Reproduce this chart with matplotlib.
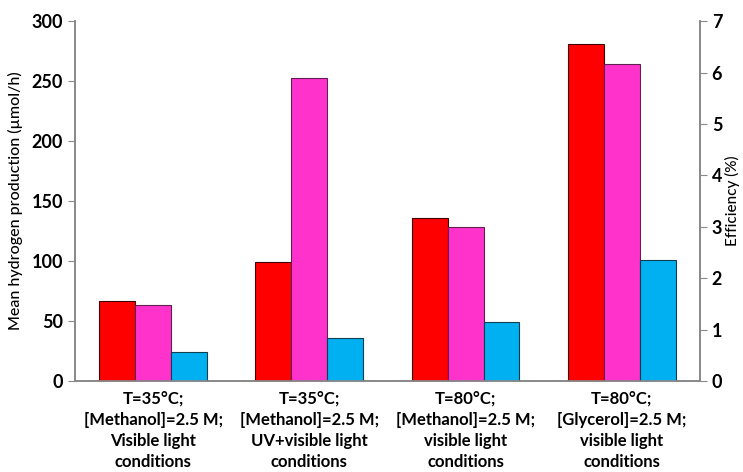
import numpy as np
import matplotlib
matplotlib.use("Agg")
import matplotlib.pyplot as plt

plt.rcParams["font.family"] = ["Lato", "DejaVu Sans"]

# ─── Data ─────────────────────────────────────────────────────────────────────
categories = [
    "T=35°C;\n[Methanol]=2.5 M;\nVisible light\nconditions",
    "T=35°C;\n[Methanol]=2.5 M;\nUV+visible light\nconditions",
    "T=80°C;\n[Methanol]=2.5 M;\nvisible light\nconditions",
    "T=80°C;\n[Glycerol]=2.5 M;\nvisible light\nconditions",
]
series_red = [67, 99, 136, 281]
series_magenta = [63, 253, 128, 264]
series_cyan = [24, 36, 49, 101]

colors = ["#FF0000", "#FF33CC", "#00B0F0"]
edges = ["#400000", "#602050", "#104050"]

fig = plt.figure(figsize=(7.43, 4.72), dpi=100)
ax = fig.add_axes([0.101, 0.193, 0.841, 0.762])

x = np.arange(len(categories))
w = 0.23
for i, vals in enumerate([series_red, series_magenta, series_cyan]):
    ax.bar(x + (i - 1) * w, vals, w, color=colors[i], edgecolor=edges[i], lw=0.8, zorder=3)

ax.set_xlim(-0.5, len(categories) - 0.5)
ax.set_ylim(0, 300)
ax.set_yticks(np.arange(0, 301, 50))
ax.set_xticks(x)
ax.set_xticklabels(categories, fontsize=12, fontweight="bold", linespacing=1.4)
ax.tick_params(axis="x", length=0, pad=7)
ax.tick_params(axis="y", direction="out", length=5, color="#888888", labelsize=13)
for lab in ax.get_yticklabels():
    lab.set_fontweight("bold")
ax.set_ylabel("Mean hydrogen production (µmol/h)", fontsize=11.5, fontweight="medium", labelpad=6)

for s in ["left", "right", "bottom"]:
    ax.spines[s].set_color("#888888")
    ax.spines[s].set_linewidth(1.2)
ax.spines["top"].set_visible(False)

ax2 = ax.twinx()
ax2.set_ylim(0, 7)
ax2.set_yticks(np.arange(0, 8, 1))
ax2.tick_params(axis="y", direction="out", length=5, color="#888888", labelsize=13)
for lab in ax2.get_yticklabels():
    lab.set_fontweight("bold")
ax2.set_ylabel("Efficiency (%)", fontsize=11, fontweight="medium", labelpad=2)
for s in ["left", "right", "bottom"]:
    ax2.spines[s].set_color("#888888")
    ax2.spines[s].set_linewidth(1.2)
ax2.spines["top"].set_visible(False)

fig.savefig("out.png", dpi=100)
